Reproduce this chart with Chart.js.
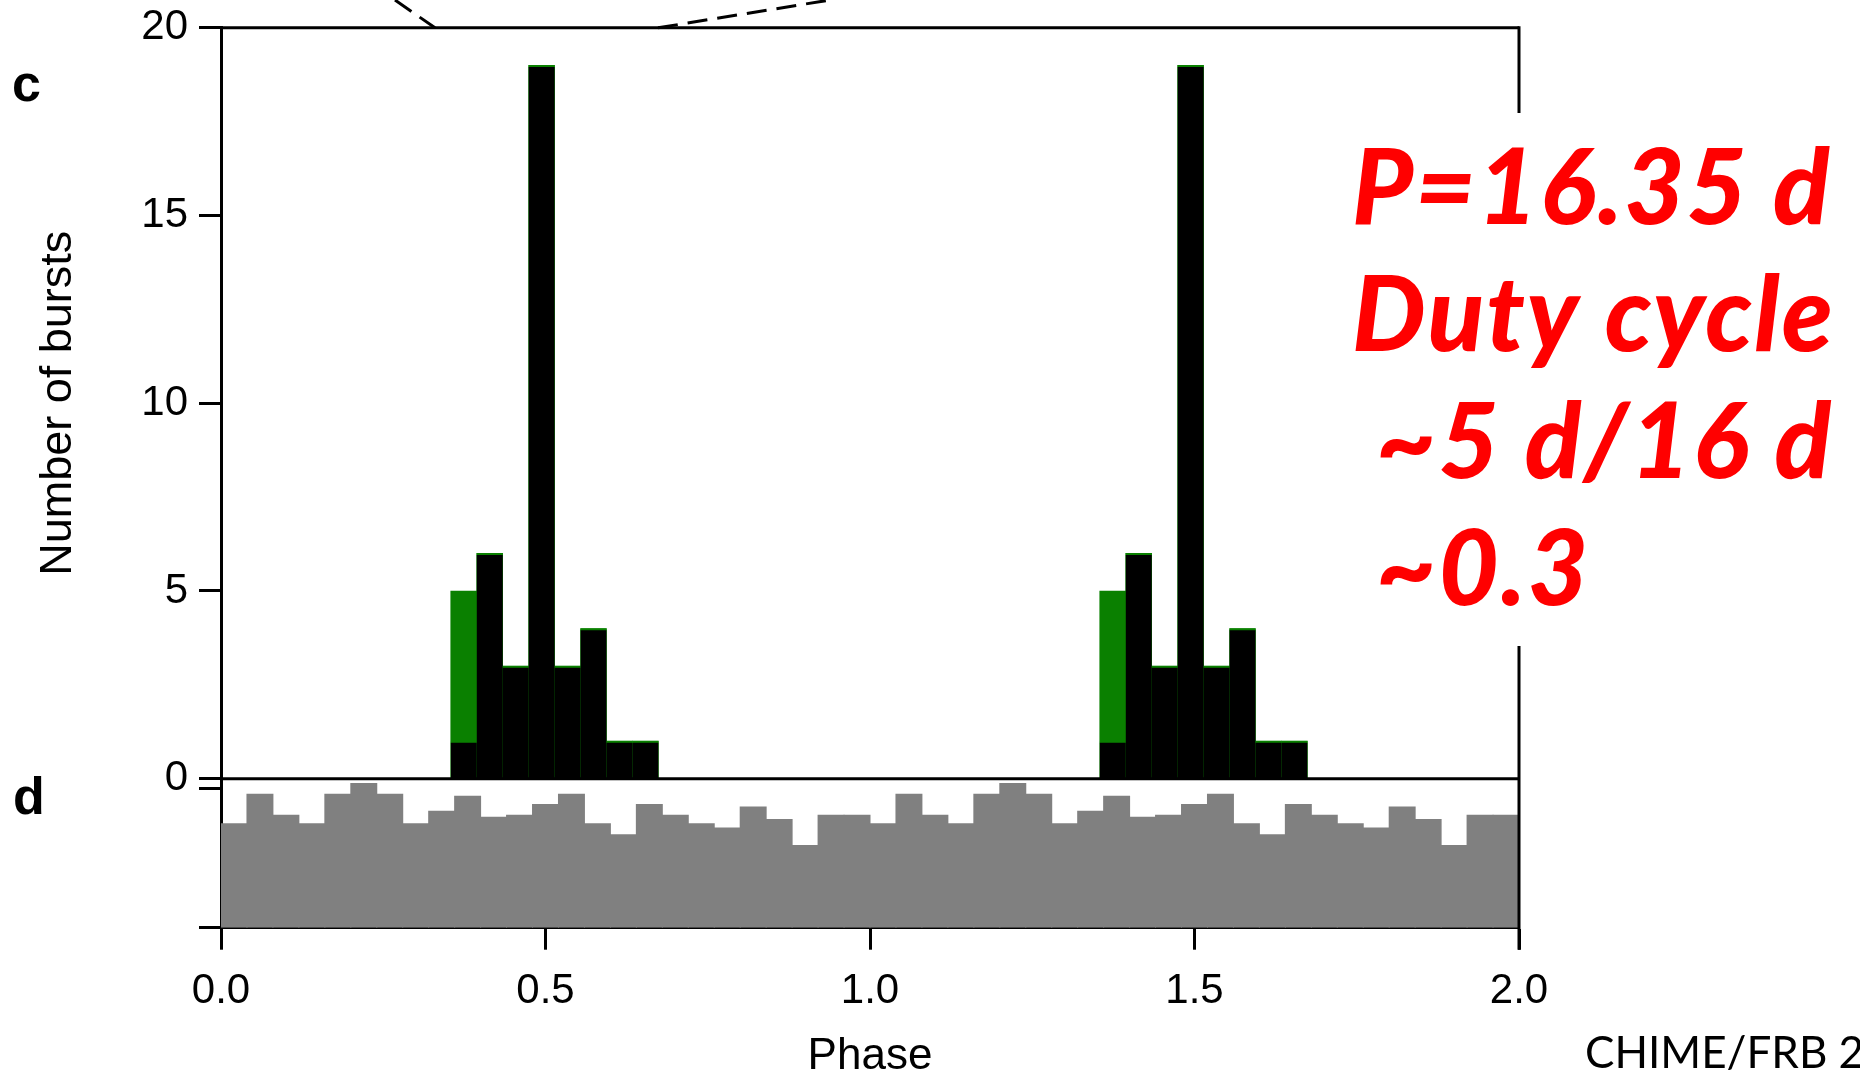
<!DOCTYPE html>
<html>
<head>
<meta charset="utf-8">
<script src="https://cdn.jsdelivr.net/npm/chart.js@4.4.1/dist/chart.umd.min.js"></script>
<style>
  html, body { margin: 0; padding: 0; background: #fff; }
  #chart { display: block; }
</style>
</head>
<body>
<canvas id="chart" width="1860" height="1077"></canvas>
<script>
// panel c: burst counts per phase bin (two cycles shown)
const burstPhase = [0.374, 0.414, 0.454, 0.494, 0.534, 0.574, 0.614, 0.654,
                    1.374, 1.414, 1.454, 1.494, 1.534, 1.574, 1.614, 1.654];
const burstsAll = [5, 6, 3, 19, 3, 4, 1, 1,   5, 6, 3, 19, 3, 4, 1, 1];
const burstsBlack = [1, 6, 3, 19, 3, 4, 1, 1,   1, 6, 3, 19, 3, 4, 1, 1];

// panel d: relative exposure per phase bin
const exposurePhase = [0.02, 0.06, 0.10, 0.14, 0.18, 0.22, 0.26, 0.30, 0.34, 0.38,
                       0.42, 0.46, 0.50, 0.54, 0.58, 0.62, 0.66, 0.70, 0.74, 0.78,
                       0.82, 0.86, 0.90, 0.94, 0.98,
                       1.02, 1.06, 1.10, 1.14, 1.18, 1.22, 1.26, 1.30, 1.34, 1.38,
                       1.42, 1.46, 1.50, 1.54, 1.58, 1.62, 1.66, 1.70, 1.74, 1.78,
                       1.82, 1.86, 1.90, 1.94, 1.98];
const exposure = [0.745, 0.956, 0.805, 0.745, 0.956, 1.033, 0.956, 0.745, 0.834, 0.942,
                  0.791, 0.805, 0.882, 0.956, 0.745, 0.666, 0.882, 0.805, 0.745, 0.714,
                  0.865, 0.774, 0.589, 0.805, 0.805,
                  0.745, 0.956, 0.805, 0.745, 0.956, 1.033, 0.956, 0.745, 0.834, 0.942,
                  0.791, 0.805, 0.882, 0.956, 0.745, 0.666, 0.882, 0.805, 0.745, 0.714,
                  0.865, 0.774, 0.589, 0.805, 0.805];

const phaseTicks = [0, 0.5, 1, 1.5, 2];
const phaseLabels = ['0.0', '0.5', '1.0', '1.5', '2.0'];
const burstTicks = [0, 5, 10, 15, 20];
const burstLabels = ['0', '5', '10', '15', '20'];
const exposureTicks = [0, 1];

const noteLines = ['P=16.35 d', 'Duty cycle', ' ~5 d/16 d', ' ~0.3'];
const creditText = 'CHIME/FRB 2020';

const green = '#0a8000';
const axisFont = "'Liberation Sans', Arial, sans-serif";

const toPoints = (xs, ys) => xs.map((x, i) => ({ x: x, y: ys[i] }));

const decorations = {
    id: 'decorations',
    afterDraw(chart) {
        const ctx = chart.ctx;
        const area = chart.chartArea;
        const y0 = chart.scales.y.getPixelForValue(0);
        const line = (x1, y1, x2, y2) => {
            ctx.beginPath();
            ctx.moveTo(x1, y1);
            ctx.lineTo(x2, y2);
            ctx.stroke();
        };
        ctx.save();
        ctx.strokeStyle = '#000';
        ctx.lineWidth = 3;
        line(area.left, area.top, area.right, area.top);
        line(area.left, y0, area.right, y0);
        line(area.right, area.top - 1.5, area.right, area.bottom + 22);

        // zoom lines from the panel above
        ctx.lineWidth = 3;
        ctx.setLineDash([20, 10]);
        line(395, 0, 435, area.top);
        line(658, area.top, 830, 0);
        ctx.setLineDash([]);

        // panel letters
        ctx.fillStyle = '#000';
        ctx.font = "bold 52px " + axisFont;
        ctx.textAlign = 'left';
        ctx.textBaseline = 'alphabetic';
        ctx.fillText('c', 12, 101);
        ctx.fillText('d', 13, 814);

        // annotation box
        ctx.fillStyle = '#fff';
        ctx.fillRect(1340, 113, 520, 533);
        ctx.fillStyle = '#ff0000';
        ctx.font = "italic 900 104px Lato, 'Open Sans', sans-serif";
        ctx.letterSpacing = '2px';
        noteLines.forEach((t, i) => ctx.fillText(t, 1352, 224 + i * 127));
        ctx.letterSpacing = '0px';

        ctx.fillStyle = '#000';
        ctx.font = "44px Lato, 'Open Sans', sans-serif";
        ctx.fillText(creditText, 1585, 1068);
        ctx.restore();
    }
};

new Chart(document.getElementById('chart'), {
    type: 'bar',
    data: {
        datasets: [
            {
                label: 'Bursts',
                data: toPoints(burstPhase, burstsBlack),
                xAxisID: 'xc',
                yAxisID: 'y',
                backgroundColor: '#000',
                borderColor: green,
                borderWidth: { top: 2, left: 0, right: 0, bottom: 0 },
                borderSkipped: false,
                grouped: false,
                barPercentage: 1,
                categoryPercentage: 1,
                inflateAmount: 0.4
            },
            {
                label: 'Bursts (green)',
                data: toPoints(burstPhase, burstsAll),
                xAxisID: 'xc',
                yAxisID: 'y',
                backgroundColor: green,
                borderWidth: 0,
                grouped: false,
                barPercentage: 1,
                categoryPercentage: 1
            },
            {
                label: 'Exposure',
                data: toPoints(exposurePhase, exposure),
                xAxisID: 'x',
                yAxisID: 'y2',
                backgroundColor: '#808080',
                borderWidth: 0,
                grouped: false,
                barPercentage: 1,
                categoryPercentage: 1,
                inflateAmount: 0.5
            }
        ]
    },
    options: {
        responsive: false,
        animation: false,
        devicePixelRatio: 1,
        layout: { padding: { top: 27.7, right: 341, bottom: 0, left: 0 } },
        plugins: {
            legend: { display: false },
            tooltip: { enabled: false }
        },
        scales: {
            xc: {
                type: 'linear',
                display: false,
                offset: false,
                min: 0,
                max: 2
            },
            x: {
                type: 'linear',
                position: 'bottom',
                offset: false,
                min: 0,
                max: 2,
                afterBuildTicks: (s) => { s.ticks = phaseTicks.map(v => ({ value: v })); },
                afterFit: (s) => { s.height = 149.3; },
                grid: { offset: false, drawOnChartArea: false, tickLength: 22, tickWidth: 3, tickColor: '#000' },
                border: { display: true, color: '#000', width: 3 },
                ticks: {
                    color: '#000',
                    padding: 17,
                    maxRotation: 0,
                    font: { family: axisFont, size: 42 },
                    callback: (v, i) => phaseLabels[i]
                },
                title: {
                    display: true,
                    text: 'Phase',
                    color: '#000',
                    font: { family: axisFont, size: 44, lineHeight: 0.9 },
                    padding: { top: 0, bottom: 0 }
                }
            },
            y: {
                type: 'linear',
                position: 'left',
                stack: 'panels',
                stackWeight: 751,
                weight: 1,
                min: 0,
                max: 20,
                afterBuildTicks: (s) => { s.ticks = burstTicks.map(v => ({ value: v })); },
                afterFit: (s) => { s.width = 221; },
                grid: { drawOnChartArea: false, tickLength: 22, tickWidth: 3, tickColor: '#000' },
                border: { display: true, color: '#000', width: 3 },
                ticks: {
                    color: '#000',
                    padding: 11,
                    font: { family: axisFont, size: 42, lineHeight: 0.8 },
                    callback: (v, i) => burstLabels[i]
                },
                title: {
                    display: true,
                    text: 'Number of bursts',
                    color: '#000',
                    font: { family: axisFont, size: 45 },
                    padding: { top: 32, bottom: 0 }
                }
            },
            y2: {
                type: 'linear',
                position: 'left',
                stack: 'panels',
                stackWeight: 149,
                weight: 0,
                min: 0,
                max: 1.0667,
                afterBuildTicks: (s) => { s.ticks = exposureTicks.map(v => ({ value: v })); },
                afterFit: (s) => { s.width = 221; },
                grid: { drawOnChartArea: false, tickLength: 22, tickWidth: 3, tickColor: '#000' },
                border: { display: true, color: '#000', width: 3 },
                ticks: {
                    color: '#000',
                    padding: 11,
                    font: { family: axisFont, size: 42, lineHeight: 0.8 },
                    callback: () => ''
                }
            }
        }
    },
    plugins: [decorations]
});
</script>
</body>
</html>
